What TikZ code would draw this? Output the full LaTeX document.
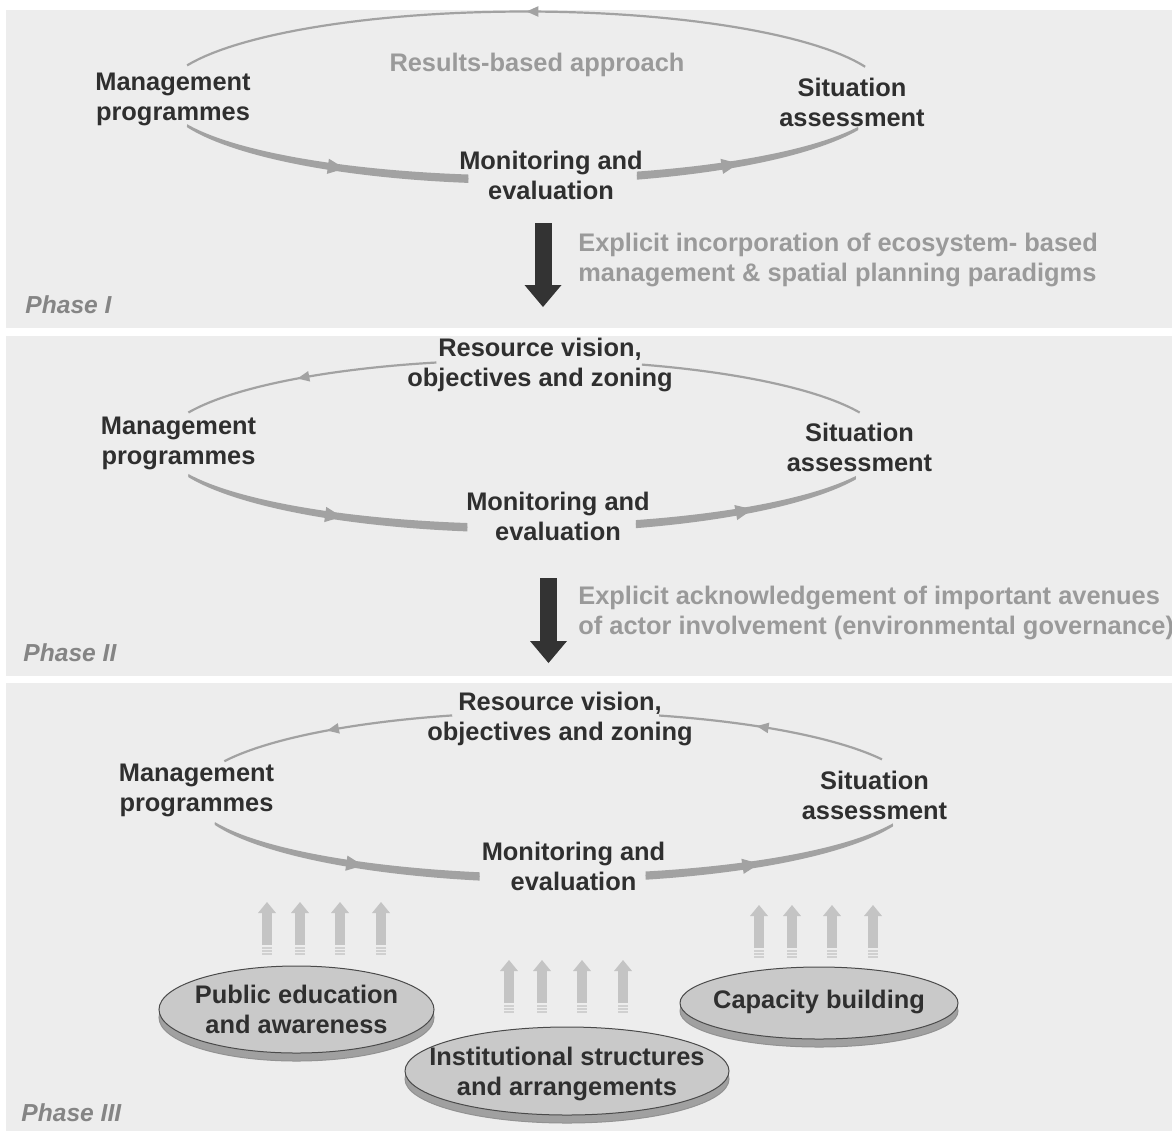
\documentclass[tikz,border=0pt]{standalone}
\usepackage{fontspec}
\setmainfont{Liberation Sans}
\usetikzlibrary{arrows.meta}
\usetikzlibrary{shapes.geometric}
\usetikzlibrary{shadows}
\usetikzlibrary{decorations.markings}

\definecolor{panelgray}{HTML}{EDEDED}
\definecolor{txtdark}{HTML}{2F2F2F}
\definecolor{txtgray}{HTML}{9A9A9A}
\definecolor{phasegray}{HTML}{858585}
\definecolor{arcgray}{HTML}{A2A2A2}
\definecolor{arrowdark}{HTML}{333333}
\definecolor{upgray}{HTML}{C4C4C4}
\definecolor{discfill}{HTML}{C9C9C9}
\definecolor{discshadow}{HTML}{A0A0A0}
\definecolor{discline}{HTML}{4A4A4A}

\tikzset{
  lbl/.style={font=\bfseries\fontsize{12.7}{15}\selectfont, text=txtdark, align=center, inner sep=0pt},
  note/.style={font=\bfseries\fontsize{12.7}{15}\selectfont, text=txtgray, align=left, inner sep=0pt, anchor=west},
  phase/.style={font=\bfseries\itshape\fontsize{12.3}{14}\selectfont, text=phasegray, anchor=west, inner sep=0pt},
  midtip/.style={postaction={decorate,decoration={markings,
      mark=at position #1 with {\arrow{Triangle[length=6pt,width=5pt]}}}}},
  midfat/.style={postaction={decorate,decoration={markings,
      mark=at position #1 with {\arrow{Triangle[length=8.5pt,width=7.5pt]}}}}},
  bigdown/.style={draw=arrowdark, line width=8.5pt, -{Triangle[length=11pt,width=18.5pt,line width=0pt]}},
  uparrow/.style={draw=upgray, line width=5pt, -{Triangle[length=5.5pt,width=9pt,line width=0pt]}},
  disc/.style={ellipse, draw=discline, line width=0.5pt, fill=discfill, inner sep=0pt,
      copy shadow={shadow xshift=0pt, shadow yshift=-4pt, fill=discshadow, draw=discline!60}},
}

% arc of the cycle ellipse: [style] cx, cy, ry, from angle, to angle
\newcommand{\ringarc}[6][]{%
  \draw[arcgray,#1] plot[domain=0:1,samples=61]
    ({#2+362*cos((#5)+((#6)-(#5))*\x)},{#3+(#4)*sin((#5)+((#6)-(#5))*\x)});}
% thick arc, thin at one end and wide at the other
\newcommand{\taperarc}[5]{%
  \fill[arcgray] plot[domain=0:1,samples=61]
      ({#1+362*cos((#4)+((#5)-(#4))*\x)},{#2+(#3-4)*sin((#4)+((#5)-(#4))*\x)})
    -- plot[domain=0:1,samples=61]
      ({#1+362*cos((#5)+((#4)-(#5))*\x)},{#2+(#3+4.5)*sin((#5)+((#4)-(#5))*\x)})
    -- cycle;}

\begin{document}
\begin{tikzpicture}[x=0.5pt,y=-0.5pt]
  \useasboundingbox (0,0) rectangle (1172,1131);
  \fill[white] (0,0) rectangle (1172,1131);
  % the three phase panels
  \fill[panelgray] (6,10) rectangle (1172,328);
  \fill[panelgray] (6,336) rectangle (1172,676);
  \fill[panelgray] (6,683) rectangle (1172,1131);

  % Phase I
  \ringarc[line width=1.1pt, midtip=0.5]{525}{95.5}{84}{-20}{-159}
  \taperarc{525}{95.5}{84}{159}{99}
  \ringarc[line width=0.6pt, midfat=0.57]{525}{95.5}{84.2}{159}{99}
  \taperarc{525}{95.5}{84}{72}{23}
  \ringarc[line width=0.6pt, midfat=0.45]{525}{95.5}{84.2}{72}{23}
  \node[lbl, text=txtgray] (rb1) at (537,64.5) {Results-based approach};
  \node[lbl] (mp1) at (173,99.5) {Management\\programmes};
  \node[lbl] (sa1) at (852,102) {Situation\\assessment};
  \node[lbl] (me1) at (551,175) {Monitoring and\\evaluation};
  \coordinate (d1top) at (543,223);
  \coordinate (d1tip) at (543,307);
  \draw[bigdown] (d1top) -- (d1tip);
  \node[note] (ex1) at (578,259.5) {Explicit incorporation of ecosystem- based\\management \& spatial planning paradigms};
  \node[phase] (ph1) at (25,305) {Phase I};

  % Phase II
  \ringarc[line width=1.1pt, midtip=0.55]{524}{444}{84}{-104}{-158}
  \ringarc[line width=1.1pt]{524}{444}{84}{-22}{-71}
  \taperarc{524}{444}{84}{158}{99}
  \ringarc[line width=0.6pt, midfat=0.56]{524}{444}{84.2}{158}{99}
  \taperarc{524}{444}{84}{72}{23.5}
  \ringarc[line width=0.6pt, midfat=0.52]{524}{444}{84.2}{72}{23.5}
  \node[lbl] (rv2) at (540,365) {Resource vision,\\objectives and zoning};
  \node[lbl] (mp2) at (178.5,443.5) {Management\\programmes};
  \node[lbl] (sa2) at (859.5,447) {Situation\\assessment};
  \node[lbl] (me2) at (558,516) {Monitoring and\\evaluation};
  \coordinate (d2top) at (548.5,578);
  \coordinate (d2tip) at (548.5,663);
  \draw[bigdown] (d2top) -- (d2tip);
  \node[note] (ex2) at (578,612.5) {Explicit acknowledgement of important avenues\\of actor involvement (environmental governance)};
  \node[phase] (ph2) at (23,653) {Phase II};

  % Phase III
  \ringarc[line width=1.1pt, midtip=0.54]{555}{795}{83}{-106.5}{-156}
  \ringarc[line width=1.1pt, midtip=0.57]{555}{795}{83}{-25.4}{-73.3}
  \taperarc{555}{795}{83}{160}{102}
  \ringarc[line width=0.6pt, midfat=0.57]{555}{795}{83.2}{160}{102}
  \taperarc{555}{795}{83}{75.5}{21}
  \ringarc[line width=0.6pt, midfat=0.45]{555}{795}{83.2}{75.5}{21}
  \node[lbl] (rv3) at (560,718.5) {Resource vision,\\objectives and zoning};
  \node[lbl] (mp3) at (196.5,790.5) {Management\\programmes};
  \node[lbl] (sa3) at (874.5,795) {Situation\\assessment};
  \node[lbl] (me3) at (573.5,866) {Monitoring and\\evaluation};

  % arrows rising from the three supports
  \foreach \bx/\by in {267/0,509/58,759/3}{
    \foreach \dx in {0,33,73,114}{
      \draw[uparrow] (\bx+\dx,945+\by) -- (\bx+\dx,902+\by);
      \foreach \sy in {948,951,954}
        \draw[upgray!80, line width=0.7pt] (\bx+\dx-5,\sy+\by) -- (\bx+\dx+5,\sy+\by);
    }
  }

  % supports
  \node[disc, minimum width=137.5pt, minimum height=43.5pt] (pe) at (296.5,1009.5) {};
  \node[lbl] (pet) at (pe) {Public education\\and awareness};
  \node[disc, minimum width=139pt, minimum height=36pt] (cb) at (819,1003) {};
  \node[lbl] (cbt) at ([yshift=0.75pt]cb.center) {Capacity building};
  \node[disc, minimum width=162pt, minimum height=44pt] (is) at (567,1071) {};
  \node[lbl] (ist) at ([yshift=-1.5pt]is.center) {Institutional structures\\and arrangements};
  \node[phase] (ph3) at (21,1113) {Phase III};
\end{tikzpicture}
\end{document}
